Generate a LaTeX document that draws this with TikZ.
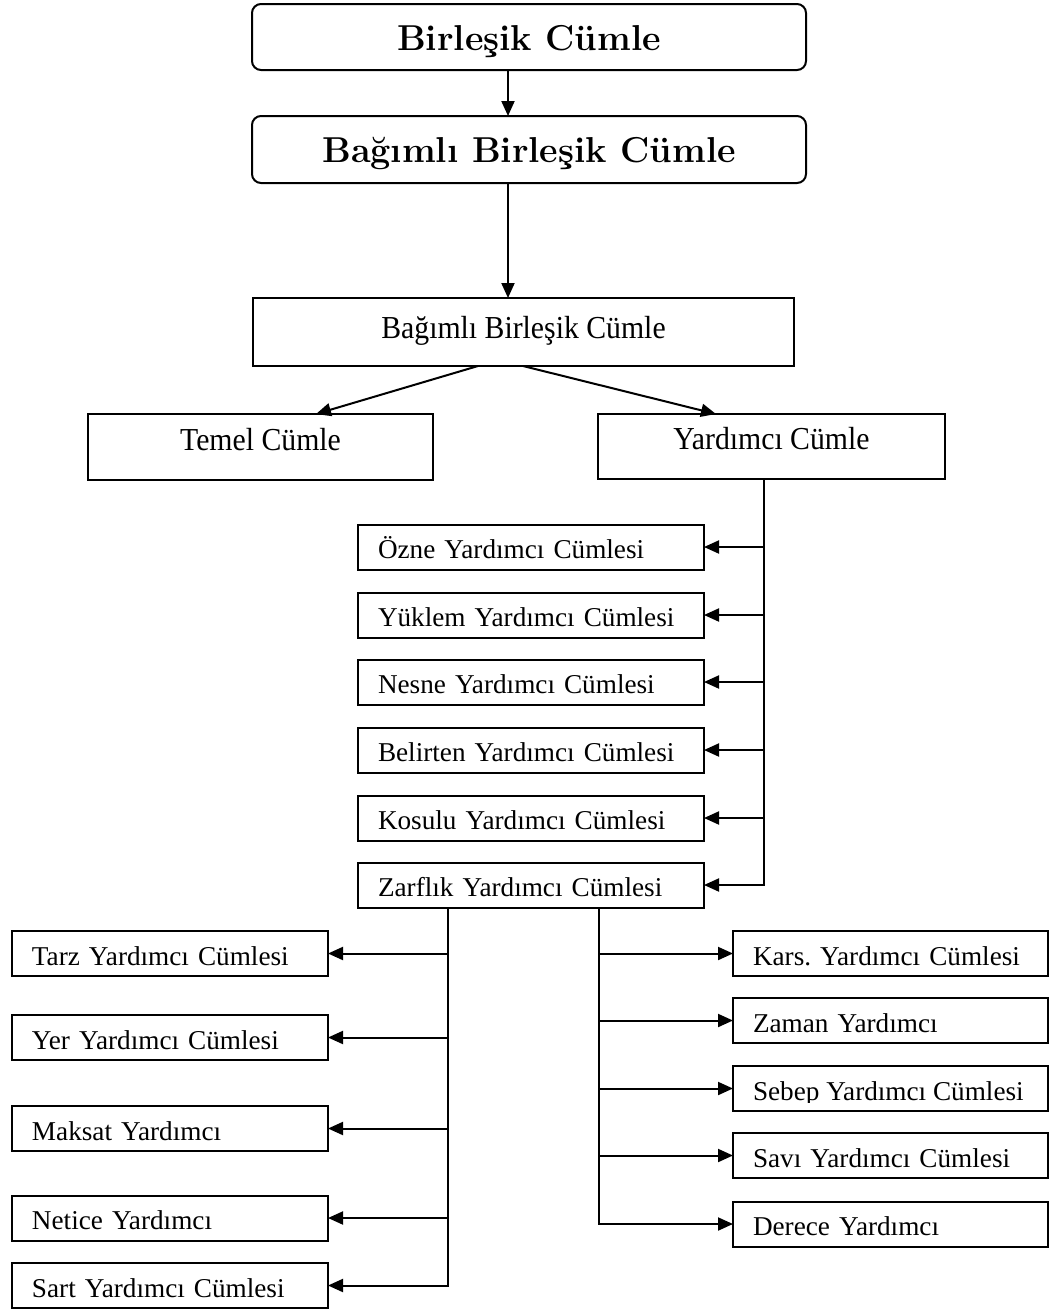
\documentclass[tikz,border=0pt]{standalone}
\usepackage{fontspec}
\setmainfont{Liberation Serif}
\newfontfamily\headfont{lmroman12-bold.otf}
\newfontfamily\condfont{Liberation Serif}[FakeStretch=0.93]
\usetikzlibrary{arrows.meta,calc}
\frenchspacing

\begin{document}
\begin{tikzpicture}[x=1pt,y=-1pt,
  line width=2pt,
  every node/.style={inner sep=0pt, outer sep=0pt},
  headbox/.style={draw, line width=2pt, rounded corners=9pt,
    minimum width=554pt, minimum height=66pt,
    font=\headfont\fontsize{36}{40}\selectfont, text height=26pt, text depth=0pt},
  levelbox/.style={draw, line width=2pt,
    font=\condfont\fontsize{32}{36}\selectfont, text depth=0pt},
  itembox/.style={draw, line width=2pt, minimum height=45pt,
    font=\fontsize{27.2}{30}\selectfont, text height=23pt, text depth=0pt,
    align=left, execute at begin node={\hspace*{20pt}}},
  arr/.style={-{Triangle[length=15pt,width=13pt]}, line width=2pt},
]
\useasboundingbox (0,0) rectangle (1050,1310);
\fill[white] (0,0) rectangle (1050,1310);

% heading boxes
\node[headbox] (b1) at (529,37) {Birleşik Cümle};
\node[headbox, minimum height=67pt] (b2) at (529,149.5) {Bağımlı Birleşik Cümle};

% main split
\node[levelbox, minimum width=541pt, minimum height=68pt, text height=12pt] (b3) at (523.5,332) {Bağımlı Birleşik Cümle};
\node[levelbox, minimum width=345pt, minimum height=66pt, text height=6pt] (temel) at (260.5,447) {Temel Cümle};
\node[levelbox, minimum width=347pt, minimum height=65pt, text height=6pt] (yard) at (771.5,446.5) {Yardımcı Cümle};

% kinds of subordinate clause
\begin{scope}[every node/.append style={itembox, text width=346pt}]
\node (ozne)     at (531,547) {Özne Yardımcı Cümlesi};
\node (yuklem)   at (531,615) {Yüklem Yardımcı Cümlesi};
\node (nesne)    at (531,682) {Nesne Yardımcı Cümlesi};
\node (belirten) at (531,750) {Belirten Yardımcı Cümlesi};
\node (kosulu)   at (531,818) {Kosulu Yardımcı Cümlesi};
\node (zarf)     at (531,885) {Zarflık Yardımcı Cümlesi};
\end{scope}

% adverbial clauses, left column
\begin{scope}[every node/.append style={itembox, text width=316pt}]
\node (tarz)   at (170,953.5)  {Tarz Yardımcı Cümlesi};
\node (yer)    at (170,1037.5) {Yer Yardımcı Cümlesi};
\node (maksat) at (170,1128.5) {Maksat Yardımcı};
\node (netice) at (170,1218)   {Netice Yardımcı};
\node (sart)   at (170,1285.5) {Sart Yardımcı Cümlesi};
\end{scope}

% adverbial clauses, right column
\begin{scope}[every node/.append style={itembox, text width=315pt}]
\node (kars)   at (890.5,953.5)  {Kars. Yardımcı Cümlesi};
\node (zaman)  at (890.5,1020.5) {Zaman Yardımcı};
\node (sebep)  at (890.5,1088.5) {};
\node (savi)   at (890.5,1155.5) {Savı Yardımcı Cümlesi};
\node (derece) at (890.5,1224)   {Derece Yardımcı};
\end{scope}
% this label sits low in its box and loses the tail of its p
\begin{scope}
\clip (sebep.north west) rectangle ($(sebep.east)+(0,14)$);
\node[anchor=base west, font=\fontsize{27.2}{30}\selectfont] (sebeptxt)
  at ($(sebep.west)+(20,11.5)$) {Sebep Yardımcı Cümlesi};
\end{scope}

% connectors
\coordinate (ax) at (508,0);
\draw[arr] (b1.south -| ax) -- (b2.north -| ax);
\draw[arr] (b2.south -| ax) -- (b3.north -| ax);

\coordinate (lt) at (478,0);
\coordinate (lh) at (316,0);
\coordinate (rt) at (523,0);
\coordinate (rh) at (716,0);
\draw[arr] (b3.south -| lt) -- (temel.north -| lh);
\draw[arr] (b3.south -| rt) -- (yard.north -| rh);

\coordinate (vm) at (764,0);
\draw[arr] (yard.south -| vm) |- (zarf.east);
\foreach \n in {ozne,yuklem,nesne,belirten,kosulu}
  \draw[arr] (\n.east -| vm) -- (\n.east);

\coordinate (vl) at (448,0);
\draw[arr] (zarf.south -| vl) |- (sart.east);
\foreach \n in {tarz,yer,maksat,netice}
  \draw[arr] (\n.east -| vl) -- (\n.east);

\coordinate (vr) at (599,0);
\draw[arr] (zarf.south -| vr) |- (derece.west);
\foreach \n in {kars,zaman,sebep,savi}
  \draw[arr] (\n.west -| vr) -- (\n.west);
\end{tikzpicture}
\end{document}
